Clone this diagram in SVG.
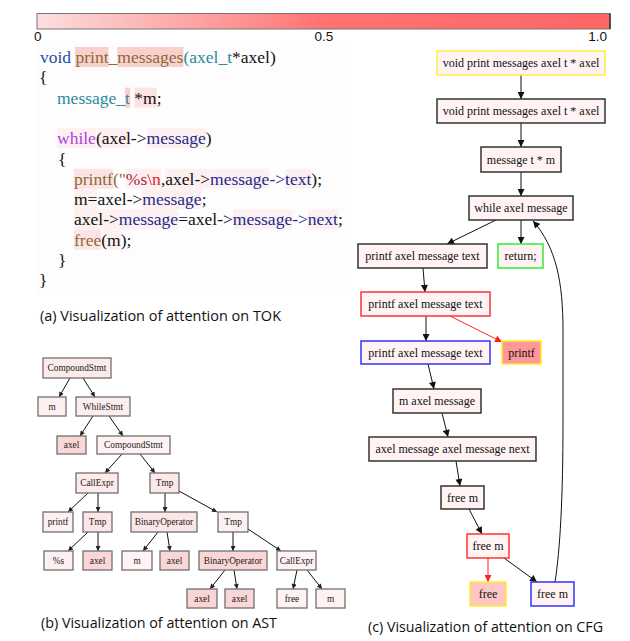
<svg xmlns="http://www.w3.org/2000/svg" width="630" height="641" viewBox="0 0 630 641">
<style>
.code{font-family:"Liberation Serif","Times New Roman",serif;font-size:17.5px;fill:#111}
.kw{fill:#1f4fa0}.fn{fill:#8b6a3a}.ty{fill:#2b8a9c}.wh{fill:#b040e0}.mb{fill:#1c2a8c}.st{fill:#a8203c}.esc{fill:#e8201c}
.h1{fill:#fbd0cc}.h2{fill:#fde4e4}.h3{fill:#fdf0f0}
.cap{font-family:"Open Sans","Noto Sans",sans-serif;font-size:14.5px;fill:#111}
.bar{font-family:"Liberation Sans",Arial,sans-serif;font-size:13.5px;fill:#111}
.an rect{stroke:#707070;stroke-width:1.3}
.an text{font-family:"Liberation Serif","Times New Roman",serif;font-size:9.3px;fill:#222;text-anchor:middle}
.cn rect{stroke-width:1.5}
.cn text{font-family:"Liberation Serif","Times New Roman",serif;font-size:12px;fill:#111;text-anchor:middle}
.e{stroke:#111;stroke-width:1;fill:none}
.er{stroke:#ff2020;stroke-width:1;fill:none}
</style>
<defs>
<linearGradient id="g" x1="0" x2="1" y1="0" y2="0">
<stop offset="0" stop-color="#fcdede"/>
<stop offset="0.5" stop-color="#ff7373"/>
<stop offset="1" stop-color="#ff6666"/>
</linearGradient>
<marker id="a" viewBox="0 0 10 10" refX="10" refY="5" markerWidth="8" markerHeight="7" markerUnits="userSpaceOnUse" orient="auto"><path d="M0,0 L10,5 L0,10 z" fill="#111"/></marker>
<marker id="ar" viewBox="0 0 10 10" refX="10" refY="5" markerWidth="8" markerHeight="7" markerUnits="userSpaceOnUse" orient="auto"><path d="M0,0 L10,5 L0,10 z" fill="#ff2020"/></marker>
<marker id="s" viewBox="0 0 10 10" refX="10" refY="5" markerWidth="6" markerHeight="5" markerUnits="userSpaceOnUse" orient="auto"><path d="M0,0 L10,5 L0,10 z" fill="#222"/></marker>
</defs>

<!-- colour bar -->
<g id="colorbar">
<rect x="37" y="13.5" width="573" height="15.5" fill="url(#g)" stroke="#777" stroke-width="1"/>
<line x1="610" y1="13.5" x2="610" y2="29" stroke="#333" stroke-width="1.5"/>
<text class="bar" x="34" y="41">0</text>
<text class="bar" x="324" y="41" text-anchor="middle">0.5</text>
<text class="bar" x="607" y="41" text-anchor="end">1.0</text>
</g>

<!-- (a) code -->
<g id="code">
<rect x="36" y="42" width="310" height="252" fill="#fdfdfd"/>
<rect class="h1" x="75" y="47" width="33.6" height="20"/>
<rect class="h1" x="117.3" y="47" width="66.1" height="20"/>
<rect class="h1" x="125" y="87.6" width="5.2" height="20"/>
<rect class="h2" x="134.3" y="87.6" width="22.5" height="20"/>
<rect class="h3" x="57" y="128.2" width="39" height="20"/>
<rect class="h3" x="97" y="128.2" width="34" height="20"/>
<rect class="h3" x="146.8" y="128.2" width="59.3" height="20"/>
<rect class="h2" x="74" y="168.8" width="39" height="20"/>
<rect class="h3" x="125.9" y="168.8" width="35" height="20"/>
<rect class="h3" x="165.3" y="168.8" width="44.9" height="20"/>
<rect class="h3" x="210.2" y="168.8" width="59.3" height="20"/>
<rect class="h3" x="285.2" y="168.8" width="26.2" height="20"/>
<rect class="h3" x="74" y="189.1" width="23.5" height="20"/>
<rect class="h3" x="142.4" y="189.1" width="59.3" height="20"/>
<rect class="h3" x="74" y="209.4" width="44.9" height="20"/>
<rect class="h3" x="118.9" y="209.4" width="59.3" height="20"/>
<rect class="h3" x="233" y="209.4" width="59.3" height="20"/>
<rect class="h3" x="308" y="209.4" width="30.1" height="20"/>
<rect class="h2" x="74" y="229.7" width="27.2" height="20"/>
<rect class="h3" x="103" y="229.7" width="18" height="20"/>
<text class="code" x="40" y="63"><tspan class="kw">void</tspan> <tspan class="fn">print_messages</tspan><tspan class="ty">(axel_t</tspan>*axel)</text>
<text class="code" x="39" y="83.3">{</text>
<text class="code" x="57" y="103.6"><tspan class="ty">message_t</tspan> *m;</text>
<text class="code" x="57" y="144.2"><tspan class="wh">while</tspan>(axel-&gt;<tspan class="mb">message</tspan>)</text>
<text class="code" x="58" y="164.5">{</text>
<text class="code" x="74" y="184.8"><tspan class="fn">printf("</tspan><tspan class="st">%s</tspan><tspan class="esc">\n</tspan>,axel-&gt;<tspan class="mb">message-&gt;text</tspan>);</text>
<text class="code" x="74" y="205.1">m=axel-&gt;<tspan class="mb">message</tspan>;</text>
<text class="code" x="74" y="225.4">axel-&gt;<tspan class="mb">message</tspan>=axel-&gt;<tspan class="mb">message-&gt;next</tspan>;</text>
<text class="code" x="74" y="245.7"><tspan class="fn">free</tspan>(m);</text>
<text class="code" x="58" y="266">}</text>
<text class="code" x="39" y="286.3">}</text>
</g>
<text class="cap" x="40" y="321" textLength="241" lengthAdjust="spacingAndGlyphs">(a) Visualization of attention on TOK</text>

<!-- (b) AST connectors -->
<g id="ast-edges">
<line class="e" x1="70" y1="378" x2="59" y2="397" marker-end="url(#s)"/>
<line class="e" x1="83" y1="378" x2="95" y2="397" marker-end="url(#s)"/>
<line class="e" x1="93" y1="416" x2="80" y2="436" marker-end="url(#s)"/>
<line class="e" x1="109" y1="416" x2="123" y2="436" marker-end="url(#s)"/>
<line class="e" x1="122" y1="454" x2="105" y2="473" marker-end="url(#s)"/>
<line class="e" x1="140" y1="454" x2="155" y2="473" marker-end="url(#s)"/>
<line class="e" x1="88" y1="493" x2="68" y2="512" marker-end="url(#s)"/>
<line class="e" x1="98" y1="493" x2="98" y2="512" marker-end="url(#s)"/>
<line class="e" x1="165" y1="493" x2="165" y2="512" marker-end="url(#s)"/>
<line class="e" x1="179" y1="491" x2="217" y2="512" marker-end="url(#s)"/>
<line class="e" x1="88" y1="532" x2="68" y2="551" marker-end="url(#s)"/>
<line class="e" x1="98" y1="532" x2="98" y2="551" marker-end="url(#s)"/>
<line class="e" x1="158" y1="532" x2="143" y2="551" marker-end="url(#s)"/>
<line class="e" x1="167" y1="532" x2="170" y2="551" marker-end="url(#s)"/>
<line class="e" x1="233" y1="532" x2="233" y2="551" marker-end="url(#s)"/>
<line class="e" x1="248" y1="529" x2="281" y2="551" marker-end="url(#s)"/>
<line class="e" x1="225" y1="570" x2="210" y2="589" marker-end="url(#s)"/>
<line class="e" x1="234" y1="570" x2="237" y2="589" marker-end="url(#s)"/>
<line class="e" x1="297" y1="570" x2="293" y2="589" marker-end="url(#s)"/>
<line class="e" x1="307" y1="570" x2="322" y2="589" marker-end="url(#s)"/>
</g>
<g class="an">
<g id="ast1"><rect x="43" y="358" width="68" height="20" fill="#fdeaea"/><text x="77" y="371">CompoundStmt</text></g>
<g id="ast2"><rect x="38" y="397" width="28" height="19" fill="#fdf0f0"/><text x="52" y="410">m</text></g>
<g id="ast3"><rect x="76" y="397" width="54" height="19" fill="#fdeeee"/><text x="103" y="410">WhileStmt</text></g>
<g id="ast4"><rect x="57" y="436" width="29" height="18" fill="#fbd6d6"/><text x="71.5" y="448">axel</text></g>
<g id="ast5"><rect x="97" y="436" width="73" height="18" fill="#fff2f2"/><text x="133.5" y="448">CompoundStmt</text></g>
<g id="ast6"><rect x="76" y="473" width="42" height="20" fill="#fdeaea"/><text x="97" y="486">CallExpr</text></g>
<g id="ast7"><rect x="150" y="473" width="29" height="20" fill="#fde8e8"/><text x="164.5" y="486">Tmp</text></g>
<g id="ast8"><rect x="43" y="512" width="30" height="20" fill="#fdf1f1"/><text x="58" y="525">printf</text></g>
<g id="ast9"><rect x="83" y="512" width="29" height="20" fill="#fde6e6"/><text x="97.5" y="525">Tmp</text></g>
<g id="ast10"><rect x="131" y="512" width="66" height="20" fill="#fde6e6"/><text x="164" y="525">BinaryOperator</text></g>
<g id="ast11"><rect x="218" y="512" width="30" height="20" fill="#fdf0f0"/><text x="233" y="525">Tmp</text></g>
<g id="ast12"><rect x="44" y="551" width="29" height="19" fill="#fdf0f0"/><text x="58.5" y="563.5">%s</text></g>
<g id="ast13"><rect x="83" y="551" width="29" height="19" fill="#fbd6d6"/><text x="97.5" y="563.5">axel</text></g>
<g id="ast14"><rect x="122" y="551" width="30" height="19" fill="#fff3f3"/><text x="137" y="563.5">m</text></g>
<g id="ast15"><rect x="160" y="551" width="29" height="19" fill="#fbd6d6"/><text x="174.5" y="563.5">axel</text></g>
<g id="ast16"><rect x="199" y="551" width="68" height="19" fill="#fbd6d6"/><text x="233" y="563.5">BinaryOperator</text></g>
<g id="ast17"><rect x="277" y="551" width="39" height="19" fill="#fff2f2"/><text x="296.5" y="563.5">CallExpr</text></g>
<g id="ast18"><rect x="187" y="589" width="30" height="19" fill="#fbd4d4"/><text x="202" y="601.5">axel</text></g>
<g id="ast19"><rect x="225" y="589" width="29" height="19" fill="#fbd6d6"/><text x="239.5" y="601.5">axel</text></g>
<g id="ast20"><rect x="277" y="589" width="30" height="19" fill="#fff2f2"/><text x="292" y="601.5">free</text></g>
<g id="ast21"><rect x="316" y="589" width="29" height="19" fill="#fff2f2"/><text x="330.5" y="601.5">m</text></g>
</g>
<text class="cap" x="41" y="628" textLength="236" lengthAdjust="spacingAndGlyphs">(b) Visualization of attention on AST</text>

<!-- (c) CFG connectors -->
<g id="cfg-edges">
<line class="e" x1="521" y1="75" x2="521" y2="99" marker-end="url(#a)"/>
<line class="e" x1="521" y1="123" x2="521" y2="147" marker-end="url(#a)"/>
<line class="e" x1="521" y1="172" x2="521" y2="196" marker-end="url(#a)"/>
<line class="e" x1="496" y1="220" x2="447" y2="244" marker-end="url(#a)"/>
<line class="e" x1="521" y1="220" x2="521" y2="244" marker-end="url(#a)"/>
<line class="e" x1="423" y1="268" x2="425" y2="292" marker-end="url(#a)"/>
<line class="e" x1="426" y1="316" x2="426" y2="341" marker-end="url(#a)"/>
<line class="er" x1="450" y1="316" x2="502" y2="342" marker-end="url(#ar)"/>
<line class="e" x1="428" y1="364" x2="434" y2="389" marker-end="url(#a)"/>
<line class="e" x1="442" y1="413" x2="448" y2="437" marker-end="url(#a)"/>
<line class="e" x1="456" y1="461" x2="460" y2="486" marker-end="url(#a)"/>
<line class="e" x1="469" y1="509" x2="482" y2="534" marker-end="url(#a)"/>
<line class="er" x1="488" y1="558" x2="488" y2="582" marker-end="url(#ar)"/>
<line class="e" x1="504" y1="558" x2="537" y2="582" marker-end="url(#a)"/>
<path class="e" d="M555,582 C560,550 563,500 563,420 L563,330 C563,282 556,247 533,221" marker-end="url(#a)"/>
</g>
<g class="cn">
<g id="cfg1"><rect x="437" y="51" width="168" height="24" fill="#fff3f3" stroke="#ffee44"/><text x="521" y="67">void print messages axel t * axel</text></g>
<g id="cfg2"><rect x="437" y="99" width="168" height="24" fill="#fff3f3" stroke="#333"/><text x="521" y="115">void print messages axel t * axel</text></g>
<g id="cfg3"><rect x="481" y="147" width="80" height="25" fill="#fff3f3" stroke="#333"/><text x="521" y="163.5">message t * m</text></g>
<g id="cfg4"><rect x="469" y="196" width="104" height="24" fill="#fff3f3" stroke="#333"/><text x="521" y="212">while axel message</text></g>
<g id="cfg5"><rect x="358" y="244" width="129" height="24" fill="#fff3f3" stroke="#333"/><text x="422.5" y="260">printf axel message text</text></g>
<g id="cfg6"><rect x="498" y="244" width="45" height="24" fill="#fff3f3" stroke="#33ee33"/><text x="520.5" y="260">return;</text></g>
<g id="cfg7"><rect x="361" y="292" width="129" height="24" fill="#fff3f3" stroke="#ff3333"/><text x="425.5" y="308">printf axel message text</text></g>
<g id="cfg8"><rect x="361" y="341" width="129" height="23" fill="#fff3f3" stroke="#3333ff"/><text x="425.5" y="356.5">printf axel message text</text></g>
<g id="cfg9"><rect x="502" y="341" width="39" height="23" fill="#ff9999" stroke="#ffee22"/><text x="521.5" y="356.5">printf</text></g>
<g id="cfg10"><rect x="393" y="389" width="88" height="24" fill="#fff3f3" stroke="#333"/><text x="437" y="405">m axel message</text></g>
<g id="cfg11"><rect x="369" y="437" width="167" height="24" fill="#fff3f3" stroke="#333"/><text x="452.5" y="453">axel message axel message next</text></g>
<g id="cfg12"><rect x="441" y="486" width="43" height="23" fill="#fff3f3" stroke="#333"/><text x="462.5" y="501.5">free m</text></g>
<g id="cfg13"><rect x="467" y="534" width="42" height="24" fill="#fff3f3" stroke="#ff3333"/><text x="488" y="550">free m</text></g>
<g id="cfg14"><rect x="470" y="582" width="36" height="24" fill="#ffc6c6" stroke="#ffee22"/><text x="488" y="598">free</text></g>
<g id="cfg15"><rect x="531" y="582" width="43" height="24" fill="#fff3f3" stroke="#3333ff"/><text x="552.5" y="598">free m</text></g>
</g>
<text class="cap" x="368" y="631.5" textLength="235" lengthAdjust="spacingAndGlyphs">(c) Visualization of attention on CFG</text>
</svg>
